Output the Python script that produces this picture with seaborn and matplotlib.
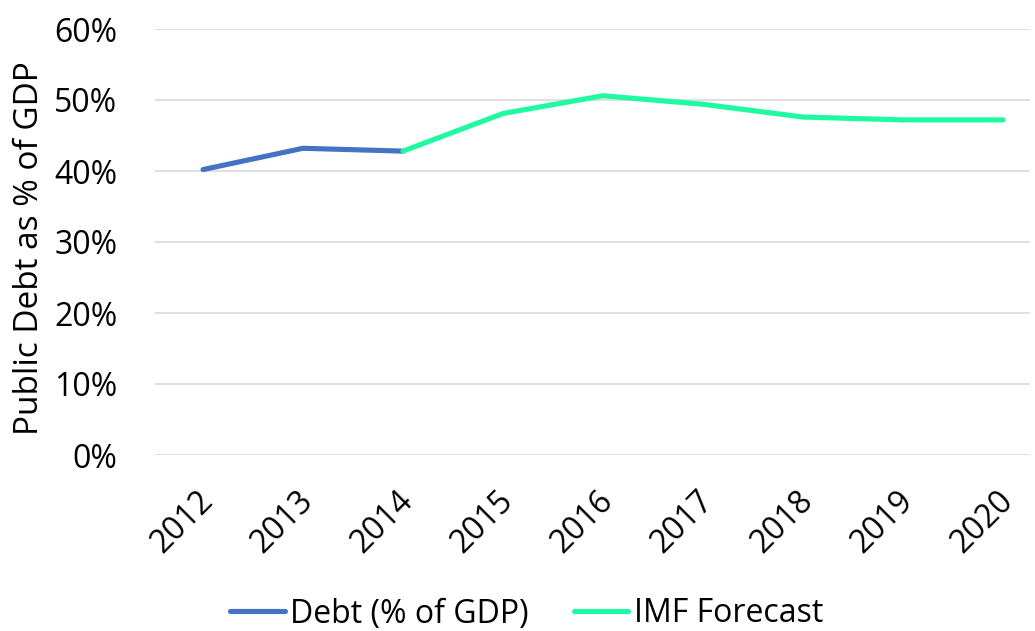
import matplotlib
matplotlib.use("Agg")
import matplotlib.pyplot as plt
import matplotlib.transforms as mtransforms
import seaborn as sns
import pandas as pd

years = [2012, 2013, 2014, 2015, 2016, 2017, 2018, 2019, 2020]
debt_years = [2012, 2013, 2014]
debt_values = [40.2, 43.2, 42.8]
forecast_years = [2014, 2015, 2016, 2017, 2018, 2019, 2020]
forecast_values = [42.8, 48.1, 50.6, 49.4, 47.6, 47.2, 47.2]
y_ticks = [0, 10, 20, 30, 40, 50, 60]

series_names = ["Debt (% of GDP)", "IMF Forecast"]
palette = {"Debt (% of GDP)": "#4472C4", "IMF Forecast": "#1EFAA0"}

df = pd.concat([
    pd.DataFrame({"year": debt_years, "value": debt_values, "series": series_names[0]}),
    pd.DataFrame({"year": forecast_years, "value": forecast_values, "series": series_names[1]}),
])
df["pos"] = df["year"].map({y: i for i, y in enumerate(years)})

sns.set_theme(style="white")
plt.rcParams["font.family"] = ["Open Sans", "DejaVu Sans"]

W, H = 1035, 631
fig = plt.figure(figsize=(W / 100, H / 100), dpi=100)
ax = fig.add_axes([155 / W, 1 - 455 / H, (1030 - 155) / W, (455 - 29) / H])

sns.lineplot(data=df, x="pos", y="value", hue="series", hue_order=series_names,
             palette=palette, linewidth=3.7, ax=ax, legend=False,
             solid_capstyle="round", sort=False)

ax.set_xlim(-0.48, 8.27)
ax.set_ylim(0, 60)
ax.set_yticks(y_ticks)
ax.set_yticklabels([f"{t}%" for t in y_ticks], fontsize=23, color="#000000")
ax.set_xticks(range(len(years)))
ax.set_xticklabels([str(y) for y in years], rotation=45, ha="right",
                   rotation_mode="anchor", fontsize=23, color="#000000")
ax.tick_params(axis="x", pad=21, length=0)
ax.tick_params(axis="y", pad=27, length=0)

# nudge the rotated year labels slightly to the left
shift = mtransforms.ScaledTranslation(-6 / 100, 0, fig.dpi_scale_trans)
for lbl in ax.get_xticklabels():
    lbl.set_transform(lbl.get_transform() + shift)

ax.grid(axis="y", color="#D9D9D9", linewidth=1.2)
ax.set_axisbelow(True)
for s in ax.spines.values():
    s.set_visible(False)
ax.set_xlabel("")
ax.set_ylabel("Public Debt as % of GDP", fontsize=24, color="#000000")
ax.yaxis.set_label_coords((46 - 155) / 875, 0.485)

handles = [plt.Line2D([], [], color=palette[n], linewidth=3.7) for n in series_names]
fig.legend(handles, series_names, loc="center", bbox_to_anchor=(526.5 / W, 1 - 614 / H),
           ncol=2, frameon=False, fontsize=23, handlelength=1.72, handletextpad=0.16,
           columnspacing=1.4, labelcolor="#000000")

fig.savefig("out.png", dpi=100)
